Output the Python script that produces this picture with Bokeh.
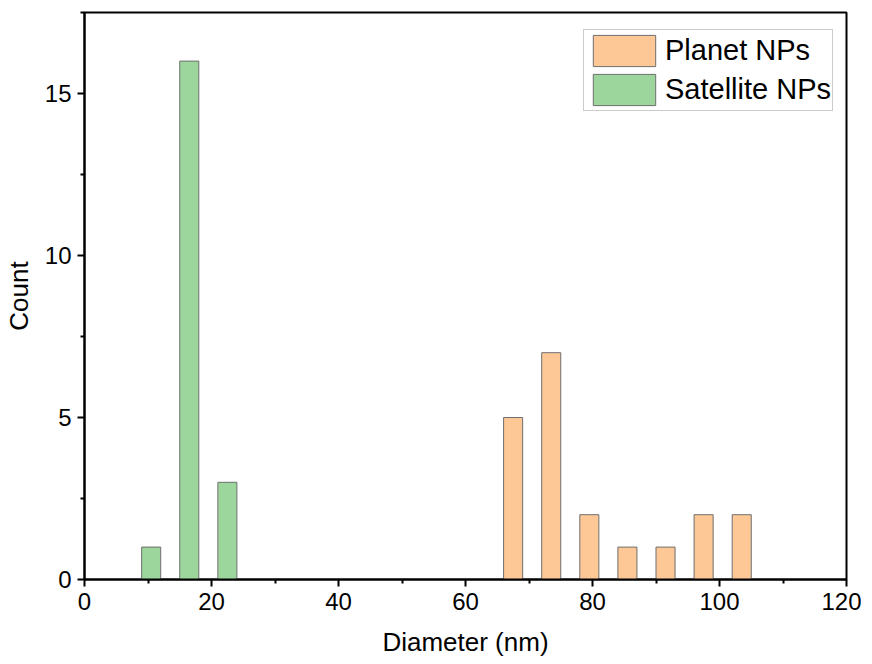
from bokeh.plotting import figure
from bokeh.models import FixedTicker, Legend, LegendItem
from bokeh.embed import file_html
from bokeh.resources import INLINE

# Data
satellite_centers = [10.5, 16.5, 22.5]
satellite_counts = [1, 16, 3]
planet_centers = [67.5, 73.5, 79.5, 85.5, 91.5, 97.5, 103.5]
planet_counts = [5, 7, 2, 1, 1, 2, 2]
bar_width = 3
x_ticks = [0, 20, 40, 60, 80, 100, 120]
x_minor = [10, 30, 50, 70, 90, 110]
y_ticks = [0, 5, 10, 15]
y_minor = [2.5, 7.5, 12.5, 17.5]
x_title = "Diameter (nm)"
y_title = "Count"

FONT = "Liberation Sans"

p = figure(output_backend="svg", toolbar_location=None,
           frame_width=762, frame_height=567,
           min_border_left=79, min_border_right=15, min_border_top=12, min_border_bottom=60,
           x_range=(0, 120), y_range=(0, 17.5),
           background_fill_color="white", border_fill_color="white")

p.xgrid.visible = False
p.ygrid.visible = False
p.outline_line_color = "black"
p.outline_line_width = 2
p.outline_line_alpha = 1

pl = p.vbar(x=planet_centers, top=planet_counts, width=bar_width, bottom=0,
            fill_color="#FDC896", line_color="#6e6e6e", line_width=1)
sa = p.vbar(x=satellite_centers, top=satellite_counts, width=bar_width, bottom=0,
            fill_color="#9DD69C", line_color="#6e6e6e", line_width=1)

for ax, maj, mnr in ((p.xaxis[0], x_ticks, x_minor), (p.yaxis[0], y_ticks, y_minor)):
    ax.ticker = FixedTicker(ticks=maj, minor_ticks=mnr)
    ax.axis_line_width = 2
    ax.axis_line_color = "black"
    ax.major_tick_line_width = 2
    ax.minor_tick_line_width = 2
    ax.major_tick_in = 0
    ax.major_tick_out = 7
    ax.minor_tick_in = 0
    ax.minor_tick_out = 4
    ax.major_label_text_font = FONT
    ax.major_label_text_font_size = "24px"
    ax.major_label_text_color = "black"
    ax.axis_label_text_font = FONT
    ax.axis_label_text_font_size = "26px"
    ax.axis_label_text_font_style = "normal"
    ax.axis_label_text_color = "black"
    ax.major_label_standoff = 6

p.xaxis.axis_label = x_title
p.yaxis.axis_label = y_title
p.xaxis.axis_label_standoff = 14
p.yaxis.axis_label_standoff = 8

legend = Legend(items=[LegendItem(label="Planet NPs", renderers=[pl]),
                       LegendItem(label="Satellite NPs", renderers=[sa])],
                location=(499, 468))
legend.border_line_color = "#9a9a9a"
legend.border_line_width = 1
legend.background_fill_alpha = 1
legend.glyph_width = 78
legend.glyph_height = 39
legend.label_text_font = FONT
legend.label_text_font_size = "29px"
legend.label_text_color = "black"
legend.label_standoff = 2
legend.padding = 1
legend.spacing = -12
legend.margin = 0
p.add_layout(legend)

open("out.html", "w").write(file_html(p, INLINE))
